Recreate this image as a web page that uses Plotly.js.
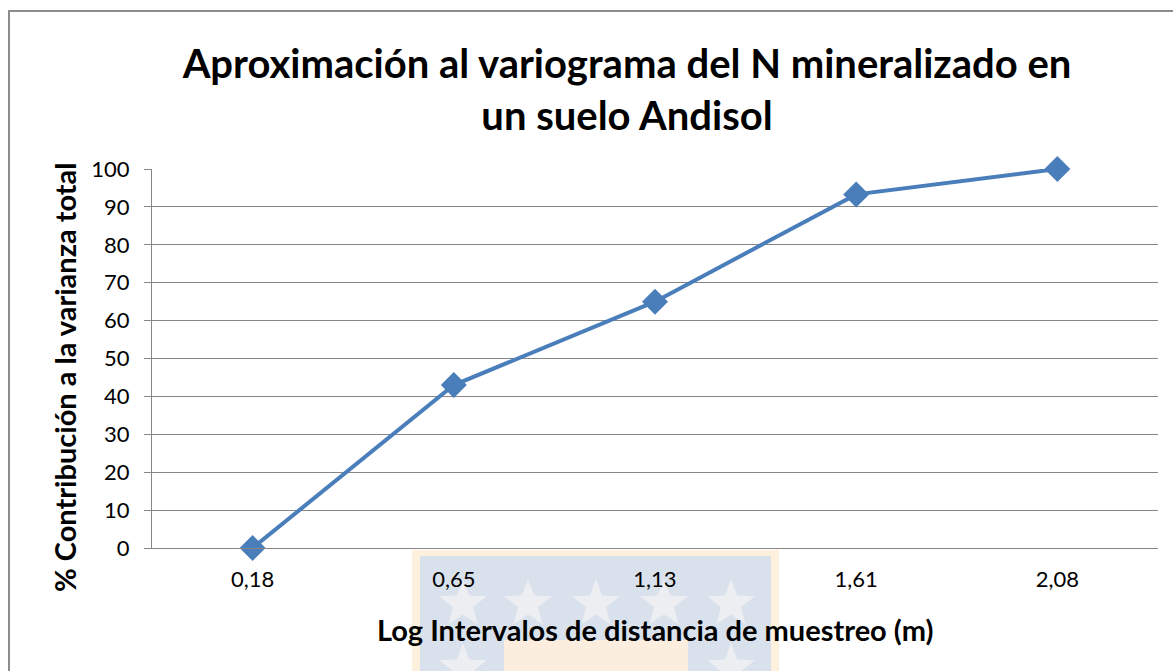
<!DOCTYPE html>
<html>
<head>
<meta charset="utf-8">
<script src="https://cdn.plot.ly/plotly-3.0.1.min.js"></script>
<style>html,body{margin:0;padding:0;background:#fff;}#chart{width:1173px;height:671px;}</style>
</head>
<body>
<div id="chart"></div>
<script>
// ---- data ----
const categories = ["0,18", "0,65", "1,13", "1,61", "2,08"];
const contribution = [0, 43, 65, 93.3, 100];
const yTicks = [0, 10, 20, 30, 40, 50, 60, 70, 80, 90, 100];
const chartTitle = "Aproximación al variograma del N mineralizado en<br>un suelo Andisol";
const xTitle = "Log Intervalos de distancia de muestreo (m)";
const yTitle = "% Contribución a la varianza total";

// ---- layout geometry ----
const W = 1173, H = 671;
const M = {l: 152, r: 15, t: 169, b: 123};
const PW = W - M.l - M.r, PH = H - M.t - M.b;
const px = x => (x - M.l) / PW;
const py = y => (H - M.b - y) / PH;

const FONT = "Lato, 'Open Sans', 'DejaVu Sans', sans-serif";
const GRID = "#868686";
const BLUE = "#4a7ebb";

// watermark decoration (background image in the original)
function starPath(cx, cy, R) {
  const r = R * 0.42;
  let d = "";
  for (let i = 0; i < 10; i++) {
    const a = -Math.PI / 2 + i * Math.PI / 5;
    const rr = i % 2 === 0 ? R : r;
    const x = px(cx + rr * Math.cos(a));
    const y = py(cy + rr * Math.sin(a));
    d += (i === 0 ? "M" : "L") + x.toFixed(5) + "," + y.toFixed(5);
  }
  return d + "Z";
}
const shapes = [
  {type: "rect", xref: "paper", yref: "paper", layer: "below",
   x0: px(412), x1: px(779), y0: py(700), y1: py(550),
   fillcolor: "#fdf0dc", line: {width: 0}},
  {type: "rect", xref: "paper", yref: "paper", layer: "below",
   x0: px(420), x1: px(771), y0: py(700), y1: py(556),
   fillcolor: "#d9e1ec", line: {width: 0}},
  {type: "rect", xref: "paper", yref: "paper", layer: "below",
   x0: px(504), x1: px(688), y0: py(700), y1: py(640),
   fillcolor: "#fbeede", line: {width: 0}}
];
[[463, 604], [528, 604], [596, 604], [664, 604], [731, 604], [463, 668], [731, 668]].forEach(s => {
  shapes.push({type: "path", xref: "paper", yref: "paper", layer: "below",
    path: starPath(s[0], s[1], 25), fillcolor: "#eceef2", line: {width: 0}});
});
// outer chart border (left and top edges visible in the crop)
shapes.push({type: "line", xref: "paper", yref: "paper", layer: "above",
  x0: px(9), x1: px(9), y0: py(680), y1: py(10),
  line: {color: "#8c8c8c", width: 2}});
shapes.push({type: "line", xref: "paper", yref: "paper", layer: "above",
  x0: px(8), x1: px(1180), y0: py(11), y1: py(11),
  line: {color: "#8c8c8c", width: 2}});

const trace = {
  type: "scatter", mode: "lines+markers",
  x: categories, y: contribution,
  line: {color: BLUE, width: 4},
  marker: {symbol: "diamond", size: 20, color: BLUE, line: {width: 0}},
  cliponaxis: false,
  hoverinfo: "x+y", showlegend: false
};

const layout = {
  width: W, height: H,
  margin: M,
  paper_bgcolor: "rgba(0,0,0,0)",
  plot_bgcolor: "rgba(0,0,0,0)",
  font: {family: FONT, color: "#000"},
  title: {
    text: chartTitle,
    font: {family: FONT, size: 40, color: "#000", weight: "bold"},
    x: px(627), xanchor: "center", xref: "paper",
    y: 1 - 78 / H, yanchor: "top", yref: "container"
  },
  xaxis: {
    type: "category", range: [-0.5, 4.5],
    showline: true, linecolor: GRID, linewidth: 1,
    showgrid: false, zeroline: false, ticks: "",
    tickfont: {family: FONT, size: 22, color: "#000"},
    ticklabelstandoff: 12,
    fixedrange: true
  },
  yaxis: {
    range: [0, 100], tickvals: yTicks, ticktext: yTicks.map(String),
    showline: true, linecolor: GRID, linewidth: 1,
    showgrid: true, gridcolor: GRID, gridwidth: 1, zeroline: false,
    ticks: "outside", ticklen: 7, tickcolor: GRID,
    tickfont: {family: FONT, size: 22, color: "#000"},
    ticklabelstandoff: 10,
    fixedrange: true
  },
  annotations: [
    {text: xTitle, xref: "paper", yref: "paper", x: px(655), y: py(629),
     xanchor: "center", yanchor: "middle", showarrow: false,
     font: {family: FONT, size: 29, color: "#000", weight: "bold"}},
    {text: yTitle, xref: "paper", yref: "paper", x: px(64), y: py(377),
     xanchor: "center", yanchor: "middle", showarrow: false, textangle: -90,
     font: {family: FONT, size: 29, color: "#000", weight: "bold"}}
  ],
  shapes: shapes
};

Plotly.newPlot("chart", [trace], layout, {displayModeBar: false, staticPlot: true});
</script>
</body>
</html>
